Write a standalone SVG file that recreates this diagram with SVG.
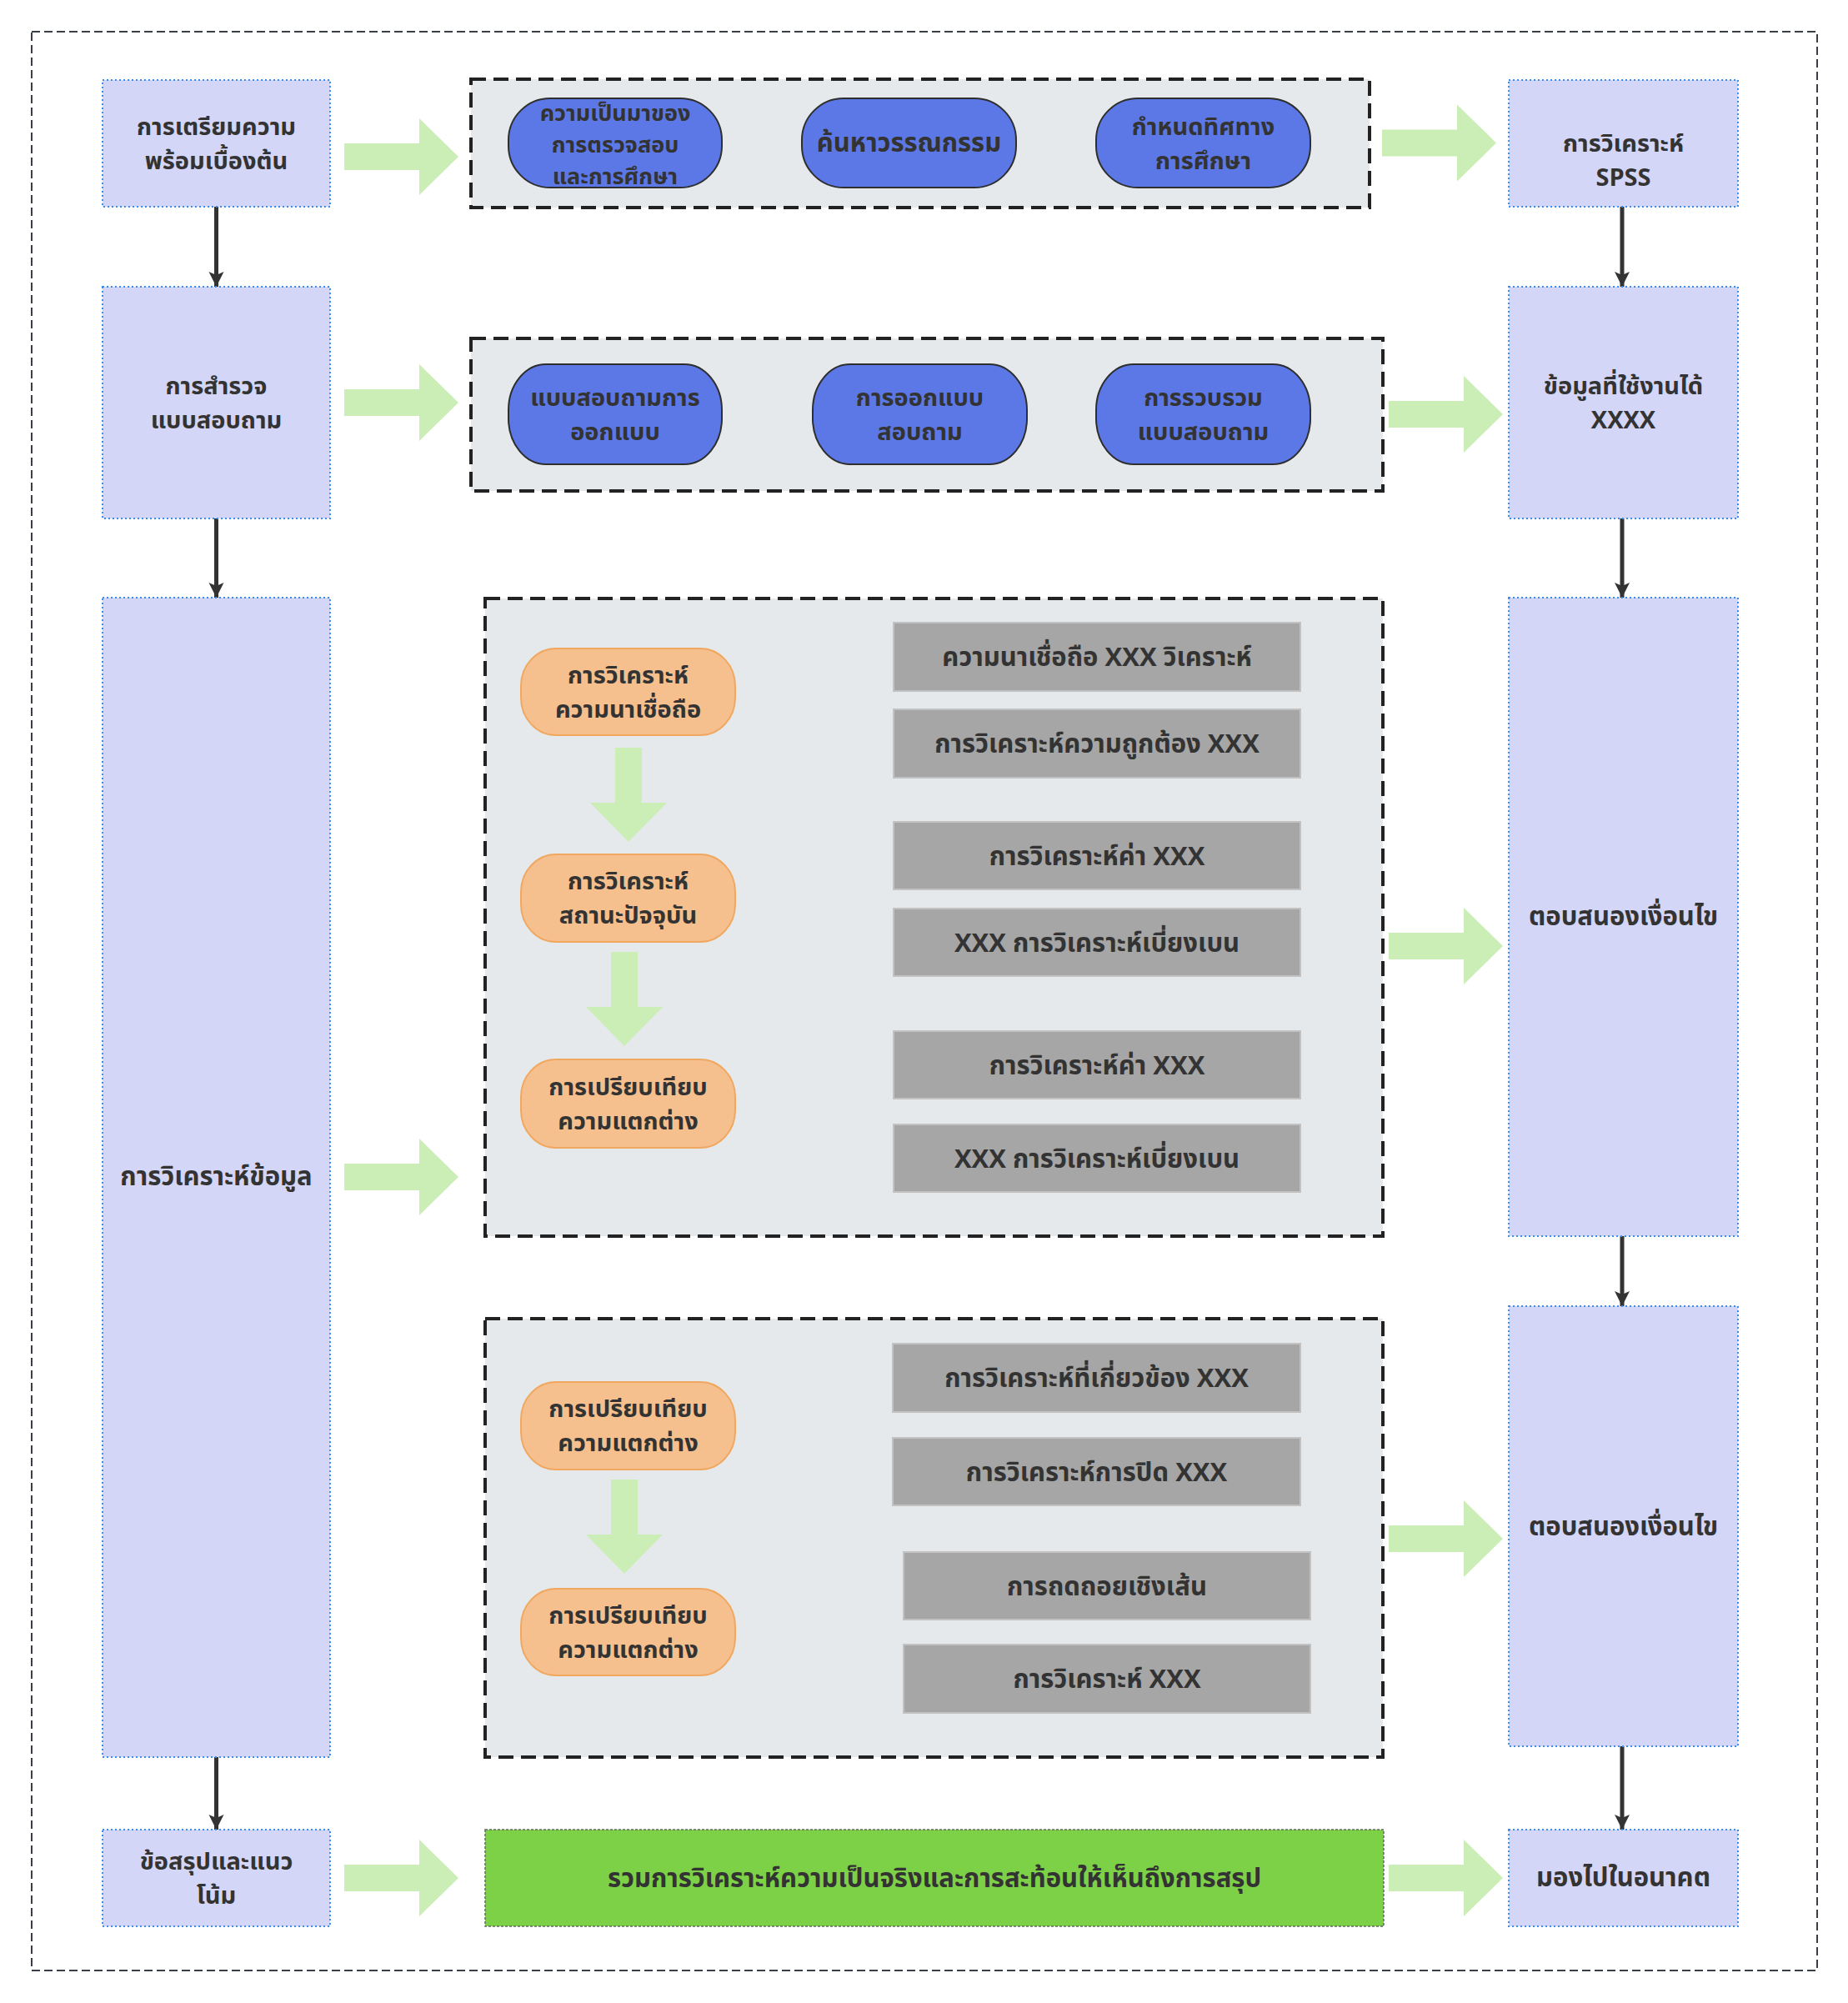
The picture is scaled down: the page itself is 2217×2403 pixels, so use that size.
<svg xmlns="http://www.w3.org/2000/svg" xmlns:xlink="http://www.w3.org/1999/xlink" width="2217" height="2403" viewBox="0 0 2217 2403">
<style>
text{font-family:"Noto Sans Thai","Noto Sans","Liberation Sans",sans-serif;font-weight:bold;font-size:29px;fill:#333;text-anchor:middle}
.stage{fill:#d3d6f7;stroke:#3b8ef0;stroke-width:2;stroke-dasharray:2 3}
.grp{fill:#e6e9ec;stroke:#222;stroke-width:4;stroke-dasharray:18 9}
.pill{fill:#5b78e6;stroke:#2e2e2e;stroke-width:2}
.opill{fill:#f5c08e;stroke:#f0a860;stroke-width:2}
.gbox{fill:#a6a6a6;stroke:#c2c2c2;stroke-width:2}
.garrow{fill:#cbedb6}
.conn{stroke:#333;stroke-width:5;fill:none;marker-end:url(#ah)}
.small{font-size:27px}
.big{font-size:31px}
</style>
<defs>
<marker id="ah" viewBox="0 0 18 28" refX="18" refY="9" markerWidth="18" markerHeight="28" markerUnits="userSpaceOnUse" orient="auto">
<path d="M0,0 L18,9 L0,18 L4,9 Z" fill="#333"/>
</marker>
<path id="harrow" d="M0,-16 H90 V-46 L137,0 L90,46 V16 H0 Z"/>
<path id="varrow" d="M-16,0 V66 H-46 L0,113 L46,66 H16 V0 Z"/>
</defs>
<rect x="0" y="0" width="2217" height="2403" fill="#fff"/>
<rect x="38" y="38" width="2142" height="2326" fill="none" stroke="#3a3f47" stroke-width="2" stroke-dasharray="10 5"/>

<g id="connectors">
<path class="conn" d="M259.5,248 V344"/>
<path class="conn" d="M259.5,622 V717"/>
<path class="conn" d="M259.5,2108 V2195"/>
<path class="conn" d="M1946,248 V344"/>
<path class="conn" d="M1946,622 V717"/>
<path class="conn" d="M1946,1483 V1567"/>
<path class="conn" d="M1946,2095 V2195"/>
<g class="garrow">
<use xlink:href="#harrow" x="413" y="188"/>
<use xlink:href="#harrow" x="413" y="483"/>
<use xlink:href="#harrow" x="413" y="1412"/>
<use xlink:href="#harrow" x="413" y="2253"/>
<use xlink:href="#harrow" x="1658" y="171.5"/>
<use xlink:href="#harrow" x="1666" y="497"/>
<use xlink:href="#harrow" x="1666" y="1135"/>
<use xlink:href="#harrow" x="1666" y="1846"/>
<use xlink:href="#harrow" x="1666" y="2253"/>
</g>
</g>

<g id="stage-prep"><rect class="stage" x="123" y="96" width="273" height="152"/><text x="259.5" y="162">การเตรียมความ</text><text x="259.5" y="203">พร้อมเบื้องต้น</text></g>
<g id="stage-survey"><rect class="stage" x="123" y="344" width="273" height="278"/><text x="259.5" y="473">การสำรวจ</text><text x="259.5" y="514">แบบสอบถาม</text></g>
<g id="stage-analysis"><rect class="stage" x="123" y="717" width="273" height="1391"/><text class="big" x="259.5" y="1422">การวิเคราะห์ข้อมูล</text></g>
<g id="stage-conclusion"><rect class="stage" x="123" y="2195" width="273" height="116"/><text x="259.5" y="2243">ข้อสรุปและแนว</text><text x="259.5" y="2284">โน้ม</text></g>

<g id="out-spss"><rect class="stage" x="1810" y="96" width="275" height="152"/><text x="1947.5" y="182">การวิเคราะห์</text><text x="1947.5" y="223">SPSS</text></g>
<g id="out-data"><rect class="stage" x="1810" y="344" width="275" height="278"/><text x="1947.5" y="473">ข้อมูลที่ใช้งานได้</text><text x="1947.5" y="514">XXXX</text></g>
<g id="out-cond1"><rect class="stage" x="1810" y="717" width="275" height="766"/><text class="big" x="1947.5" y="1110">ตอบสนองเงื่อนไข</text></g>
<g id="out-cond2"><rect class="stage" x="1810" y="1567" width="275" height="528"/><text class="big" x="1947.5" y="1842">ตอบสนองเงื่อนไข</text></g>
<g id="out-future"><rect class="stage" x="1810" y="2195" width="275" height="116"/><text class="big" x="1947.5" y="2263">มองไปในอนาคต</text></g>

<g id="group-prep">
<rect class="grp" x="565" y="95" width="1078" height="154"/>
<g id="p1"><rect class="pill" x="610" y="118" width="256" height="107" rx="50" ry="50"/><text class="small" x="738" y="145">ความเป็นมาของ</text><text class="small" x="738" y="183">การตรวจสอบ</text><text class="small" x="738" y="221">และการศึกษา</text></g>
<g id="p2"><rect class="pill" x="962" y="118" width="257" height="107" rx="50" ry="50"/><text class="big" x="1090.5" y="182">ค้นหาวรรณกรรม</text></g>
<g id="p3"><rect class="pill" x="1315" y="118" width="257" height="107" rx="50" ry="50"/><text x="1443.5" y="162">กำหนดทิศทาง</text><text x="1443.5" y="203">การศึกษา</text></g>
</g>

<g id="group-survey">
<rect class="grp" x="565" y="406" width="1094" height="183"/>
<g id="p4"><rect class="pill" x="610" y="437" width="256" height="120" rx="45" ry="55"/><text x="738" y="487">แบบสอบถามการ</text><text x="738" y="528">ออกแบบ</text></g>
<g id="p5"><rect class="pill" x="975" y="437" width="257" height="120" rx="45" ry="55"/><text x="1103.5" y="487">การออกแบบ</text><text x="1103.5" y="528">สอบถาม</text></g>
<g id="p6"><rect class="pill" x="1315" y="437" width="257" height="120" rx="45" ry="55"/><text x="1443.5" y="487">การรวบรวม</text><text x="1443.5" y="528">แบบสอบถาม</text></g>
</g>

<g id="group-analysis1">
<rect class="grp" x="582" y="718" width="1077" height="765"/>
<g class="garrow"><use xlink:href="#varrow" x="754" y="897"/><use xlink:href="#varrow" x="749" y="1142"/></g>
<g id="o1"><rect class="opill" x="625" y="778" width="257" height="104" rx="42" ry="45"/><text x="753.5" y="820">การวิเคราะห์</text><text x="753.5" y="861">ความนาเชื่อถือ</text></g>
<g id="o2"><rect class="opill" x="625" y="1025" width="257" height="105" rx="42" ry="45"/><text x="753.5" y="1067">การวิเคราะห์</text><text x="753.5" y="1108">สถานะปัจจุบัน</text></g>
<g id="o3"><rect class="opill" x="625" y="1271" width="257" height="106" rx="42" ry="45"/><text x="753.5" y="1314">การเปรียบเทียบ</text><text x="753.5" y="1355">ความแตกต่าง</text></g>
<g id="g1"><rect class="gbox" x="1072" y="747" width="488" height="82"/><text class="big" x="1316" y="799">ความนาเชื่อถือ XXX วิเคราะห์</text></g>
<g id="g2"><rect class="gbox" x="1072" y="851" width="488" height="82"/><text class="big" x="1316" y="903">การวิเคราะห์ความถูกต้อง XXX</text></g>
<g id="g3"><rect class="gbox" x="1072" y="986" width="488" height="81"/><text class="big" x="1316" y="1038">การวิเคราะห์ค่า XXX</text></g>
<g id="g4"><rect class="gbox" x="1072" y="1090" width="488" height="81"/><text class="big" x="1316" y="1142">XXX การวิเคราะห์เบี่ยงเบน</text></g>
<g id="g5"><rect class="gbox" x="1072" y="1237" width="488" height="81"/><text class="big" x="1316" y="1289">การวิเคราะห์ค่า XXX</text></g>
<g id="g6"><rect class="gbox" x="1072" y="1349" width="488" height="81"/><text class="big" x="1316" y="1401">XXX การวิเคราะห์เบี่ยงเบน</text></g>
</g>

<g id="group-analysis2">
<rect class="grp" x="582" y="1582" width="1077" height="526"/>
<g class="garrow"><use xlink:href="#varrow" x="749" y="1775"/></g>
<g id="o4"><rect class="opill" x="625" y="1658" width="257" height="105" rx="42" ry="45"/><text x="753.5" y="1700">การเปรียบเทียบ</text><text x="753.5" y="1741">ความแตกต่าง</text></g>
<g id="o5"><rect class="opill" x="625" y="1906" width="257" height="104" rx="42" ry="45"/><text x="753.5" y="1948">การเปรียบเทียบ</text><text x="753.5" y="1989">ความแตกต่าง</text></g>
<g id="g7"><rect class="gbox" x="1071" y="1612" width="489" height="82"/><text class="big" x="1315.5" y="1664">การวิเคราะห์ที่เกี่ยวข้อง XXX</text></g>
<g id="g8"><rect class="gbox" x="1071" y="1725" width="489" height="81"/><text class="big" x="1315.5" y="1777">การวิเคราะห์การปิด XXX</text></g>
<g id="g9"><rect class="gbox" x="1084" y="1862" width="488" height="81"/><text class="big" x="1328" y="1914">การถดถอยเชิงเส้น</text></g>
<g id="g10"><rect class="gbox" x="1084" y="1973" width="488" height="82"/><text class="big" x="1328" y="2025">การวิเคราะห์ XXX</text></g>
</g>

<g id="summary"><rect x="582" y="2195" width="1078" height="116" fill="#7dd147" stroke="#666" stroke-width="1.5" stroke-dasharray="3 2"/><text class="big" x="1121" y="2264">รวมการวิเคราะห์ความเป็นจริงและการสะท้อนให้เห็นถึงการสรุป</text></g>
</svg>
